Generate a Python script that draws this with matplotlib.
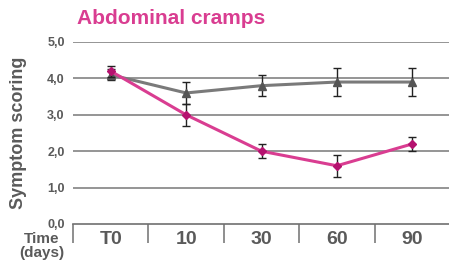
import numpy as np
import matplotlib.pyplot as plt

# data
categories = ['T0', '10', '30', '60', '90']
ytick_labels = ['0,0', '1,0', '2,0', '3,0', '4,0', '5,0']
control_mean = [4.1, 3.6, 3.8, 3.9, 3.9]
control_err = [0.15, 0.3, 0.28, 0.38, 0.38]
treated_mean = [4.2, 3.0, 2.0, 1.6, 2.2]
treated_err = [0.15, 0.3, 0.2, 0.3, 0.2]

plt.rcParams['font.family'] = ['Liberation Sans', 'DejaVu Sans']

MAGENTA = '#d93d91'
MAGENTA_DARK = '#b5126f'
GRAY_LINE = '#7a7a7a'
GRAY_MARK = '#555555'
TEXT = '#5a5a5a'

fig = plt.figure(figsize=(4.49, 2.63), dpi=100)
ax = fig.add_axes([73 / 449, 1 - 224 / 263, 377 / 449, (224 - 42) / 263])

x = np.arange(len(categories))

for v in range(1, 6):
    ax.axhline(v, color='#959595', lw=1.4, zorder=1)

ax.errorbar(x, control_mean, yerr=control_err, color=GRAY_LINE, lw=2.2,
            marker='^', ms=6, mfc=GRAY_MARK, mec=GRAY_MARK,
            ecolor='#222222', elinewidth=1.0, capsize=3, capthick=1.0, zorder=3)
ax.errorbar(x, treated_mean, yerr=treated_err, color=MAGENTA, lw=2.2,
            marker='D', ms=4.5, mfc=MAGENTA_DARK, mec=MAGENTA_DARK,
            ecolor='#222222', elinewidth=1.0, capsize=3, capthick=1.0, zorder=4)

ax.set_xlim(-0.5, len(categories) - 0.5)
ax.set_ylim(0, 5)

for s in ['top', 'right', 'left']:
    ax.spines[s].set_visible(False)
ax.spines['bottom'].set_color('#707070')
ax.spines['bottom'].set_linewidth(1.2)

ax.set_yticks(range(6))
ax.set_yticklabels(ytick_labels, fontsize=9, fontweight='bold', color=TEXT)
ax.tick_params(axis='y', length=0, pad=6)

# category separators below the axis
ax.set_xticks(np.arange(len(categories) + 1) - 0.5)
ax.set_xticklabels([])
ax.tick_params(axis='x', which='major', direction='out', length=14, width=1.1, color='#707070')
ax.set_xticks(x, minor=True)
ax.set_xticklabels(categories, minor=True, fontsize=14, fontweight='bold', color=TEXT)
ax.tick_params(axis='x', which='minor', length=0, pad=5)

ax.set_ylabel('Symptom scoring', fontsize=13, fontweight='bold', color=TEXT)
ax.yaxis.set_label_coords(-0.122, 0.5)

fig.text(42 / 449, 1 - 246 / 263, 'Time\n(days)', ha='center', va='center',
         fontsize=11, fontweight='bold', color=TEXT, linespacing=1.0)
fig.text(77 / 449, 1 - 19 / 263, 'Abdominal cramps', ha='left', va='center',
         fontsize=15, fontweight='bold', color=MAGENTA)

fig.savefig('out.png', dpi=100)
